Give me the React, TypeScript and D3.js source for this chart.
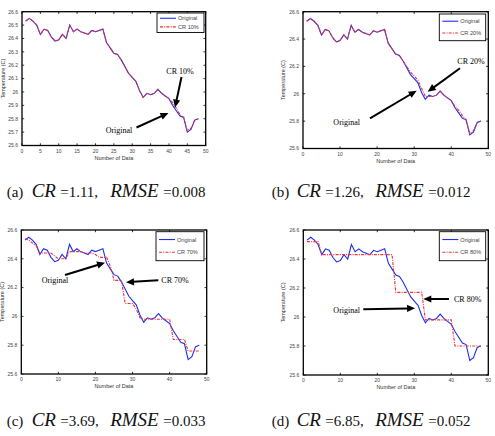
import * as d3 from 'd3';

// measured temperature, one reading per sample
const original = [
  26.53, 26.55, 26.53, 26.5, 26.43, 26.47, 26.46, 26.41, 26.38, 26.39,
  26.43, 26.4, 26.5, 26.45, 26.47, 26.45, 26.44, 26.43, 26.46, 26.45,
  26.46, 26.47, 26.37, 26.33, 26.29, 26.28, 26.24, 26.19, 26.14, 26.11,
  26.08, 26.01, 25.96, 25.99, 25.98, 25.99, 26.02, 25.99, 25.97, 25.95,
  25.9, 25.86, 25.82, 25.81, 25.7, 25.72, 25.79, 25.8,
];

// reconstructed signals at each compression ratio
const cr10 = [
  26.53, 26.55, 26.53, 26.5, 26.43, 26.47, 26.46, 26.41, 26.38, 26.39,
  26.43, 26.4, 26.5, 26.45, 26.47, 26.45, 26.44, 26.43, 26.46, 26.45,
  26.46, 26.47, 26.37, 26.33, 26.29, 26.28, 26.24, 26.19, 26.14, 26.11,
  26.08, 26.01, 25.96, 25.99, 25.98, 25.99, 26.02, 25.99, 25.97, 25.95,
  25.92, 25.88, 25.83, 25.81, 25.71, 25.73, 25.79, 25.8,
];
const cr20 = [
  26.53, 26.55, 26.53, 26.5, 26.43, 26.47, 26.46, 26.41, 26.38, 26.39,
  26.43, 26.4, 26.5, 26.45, 26.47, 26.45, 26.44, 26.43, 26.46, 26.45,
  26.46, 26.47, 26.37, 26.33, 26.29, 26.28, 26.24, 26.2, 26.16, 26.13,
  26.1, 26.04, 25.98, 25.98, 25.98, 25.99, 26.02, 25.99, 25.97, 25.95,
  25.91, 25.88, 25.84, 25.81, 25.71, 25.73, 25.79, 25.8,
];
const cr70 = [
  26.54, 26.53, 26.51, 26.49, 26.44, 26.44, 26.44, 26.44, 26.42, 26.4,
  26.4, 26.4, 26.45, 26.45, 26.45, 26.45, 26.44, 26.44, 26.44, 26.43,
  26.41, 26.41, 26.41, 26.35, 26.25, 26.25, 26.25, 26.09, 26.09, 26.09,
  26.05, 25.99, 25.98, 25.98, 25.98, 25.98, 25.98, 25.98, 25.98, 25.98,
  25.84, 25.84, 25.84, 25.84, 25.76, 25.76, 25.76, 25.76,
];
const cr80 = [
  26.52, 26.52, 26.52, 26.52, 26.43, 26.43, 26.43, 26.43, 26.43, 26.43,
  26.43, 26.43, 26.43, 26.43, 26.43, 26.43, 26.43, 26.43, 26.43, 26.43,
  26.43, 26.43, 26.43, 26.43, 26.17, 26.17, 26.17, 26.17, 26.17, 26.17,
  26.17, 26.17, 25.98, 25.98, 25.98, 25.98, 25.98, 25.98, 25.98, 25.98,
  25.8, 25.8, 25.8, 25.8, 25.8, 25.8, 25.8, 25.8,
];

const ticksFine = [25.6, 25.7, 25.8, 25.9, 26, 26.1, 26.2, 26.3, 26.4, 26.5, 26.6];
const ticksCoarse = [25.6, 25.8, 26, 26.2, 26.4, 26.6];
const xTicks5 = [0, 5, 10, 15, 20, 25, 30, 35, 40, 45, 50];
const xTicks10 = [0, 10, 20, 30, 40, 50];

const crLabels = ['CR 10%', 'CR 20%', 'CR 70%', 'CR 80%'];
const captionTags = ['(a)', '(b)', '(c)', '(d)'];
const crValues = ['1.11', '1.26', '3.69', '6.85'];
const rmseValues = ['0.008', '0.012', '0.033', '0.052'];

const BLUE = '#1d2ff0';
const RED = '#f0303a';
const SANS = '"Liberation Sans", Arial, sans-serif';
const SERIF = '"Liberation Serif", "Times New Roman", serif';

type Pt = [number, number];
type Box = { x0: number; x1: number; y0: number; y1: number };

function Arrow({ from, to }: { from: Pt; to: Pt }) {
  const dx = to[0] - from[0];
  const dy = to[1] - from[1];
  const len = Math.hypot(dx, dy);
  const ux = dx / len;
  const uy = dy / len;
  const head = 8;
  const half = 3.6;
  const bx = to[0] - ux * head;
  const by = to[1] - uy * head;
  const pts = [
    [to[0], to[1]],
    [bx - uy * half, by + ux * half],
    [bx + uy * half, by - ux * half],
  ];
  return (
    <g>
      <line x1={from[0]} y1={from[1]} x2={bx + ux} y2={by + uy} stroke="#000" strokeWidth={2} />
      <polygon points={pts.map(p => p.join(',')).join(' ')} fill="#000" />
    </g>
  );
}

interface PanelProps {
  box: Box;
  yTicks: number[];
  xTicks: number[];
  compressed: number[];
  label: string;
  legend: { x: number; y: number; w: number; h: number };
  annCR: { text: Pt; from: Pt; to: Pt };
  annOrig: { text: Pt; from: Pt; to: Pt };
  yLabelX: number;
}

function Panel({ box, yTicks, xTicks, compressed, label, legend, annCR, annOrig, yLabelX }: PanelProps) {
  const x = d3.scaleLinear().domain([0, 50]).range([box.x0, box.x1]);
  const y = d3.scaleLinear().domain([25.6, 26.6]).range([box.y1, box.y0]);
  const line = d3.line<number>().x((_, i) => x(i + 1)).y(d => y(d));
  const tick = 2.2;
  const ly1 = legend.y + legend.h * 0.27;
  const ly2 = legend.y + legend.h * 0.71;

  return (
    <g>
      <path d={line(original) ?? ''} fill="none" stroke={BLUE} strokeWidth={1.1} />
      <path d={line(compressed) ?? ''} fill="none" stroke={RED} strokeWidth={1.1}
        strokeDasharray="3,1.2,1,1.2" />

      {yTicks.map(t => (
        <g key={`y${t}`}>
          <line x1={box.x0} x2={box.x0 + tick} y1={y(t)} y2={y(t)} stroke="#000" strokeWidth={0.8} />
          <line x1={box.x1} x2={box.x1 - tick} y1={y(t)} y2={y(t)} stroke="#000" strokeWidth={0.8} />
          <text x={box.x0 - 4} y={y(t) + 1.8} textAnchor="end" fontSize={5} fontFamily={SANS} fill="#444">
            {d3.format('~g')(t)}
          </text>
        </g>
      ))}
      {xTicks.map(t => (
        <g key={`x${t}`}>
          <line x1={x(t)} x2={x(t)} y1={box.y1} y2={box.y1 - tick} stroke="#000" strokeWidth={0.8} />
          <line x1={x(t)} x2={x(t)} y1={box.y0} y2={box.y0 + tick} stroke="#000" strokeWidth={0.8} />
          <text x={x(t)} y={box.y1 + 7} textAnchor="middle" fontSize={5} fontFamily={SANS} fill="#444">
            {t}
          </text>
        </g>
      ))}
      <rect x={box.x0} y={box.y0} width={box.x1 - box.x0} height={box.y1 - box.y0}
        fill="none" stroke="#000" strokeWidth={1.3} />

      <text x={(box.x0 + box.x1) / 2} y={box.y1 + 14} textAnchor="middle" fontSize={5.5}
        fontFamily={SANS} fill="#333">Number of Data</text>
      <text transform={`translate(${yLabelX},${(box.y0 + box.y1) / 2}) rotate(-90)`} textAnchor="middle"
        fontSize={5.5} fontFamily={SANS} fill="#333">Temperature (C)</text>

      <rect x={legend.x} y={legend.y} width={legend.w} height={legend.h} fill="#fff" stroke="#000" strokeWidth={0.9} />
      <line x1={legend.x + 3} x2={legend.x + 19} y1={ly1} y2={ly1} stroke={BLUE} strokeWidth={1.1} />
      <line x1={legend.x + 3} x2={legend.x + 19} y1={ly2} y2={ly2} stroke={RED} strokeWidth={1.1}
        strokeDasharray="3,1.2,1,1.2" />
      <text x={legend.x + 21} y={ly1 + 2} fontSize={5.6} fontFamily={SANS} fill="#444">Original</text>
      <text x={legend.x + 21} y={ly2 + 2} fontSize={5.6} fontFamily={SANS} fill="#444">{label}</text>

      <text x={annCR.text[0]} y={annCR.text[1] + 2.8} textAnchor="middle" fontSize={8} fontFamily={SERIF}>{label}</text>
      <Arrow from={annCR.from} to={annCR.to} />
      <text x={annOrig.text[0]} y={annOrig.text[1] + 2.8} textAnchor="middle" fontSize={8} fontFamily={SERIF}>Original</text>
      <Arrow from={annOrig.from} to={annOrig.to} />
    </g>
  );
}

function Caption({ i, x, y }: { i: number; x: number; y: number }) {
  return (
    <text y={y} fontFamily={SERIF} fill="#111">
      <tspan x={x} fontSize={15}>{captionTags[i]}</tspan>
      <tspan x={x + 25} fontSize={19} fontStyle="italic">CR</tspan>
      <tspan x={x + 53.5} fontSize={15}>{`=${crValues[i]},`}</tspan>
      <tspan x={x + 103.5} fontSize={19} fontStyle="italic">RMSE</tspan>
      <tspan x={x + 156.5} fontSize={15}>{`=${rmseValues[i]}`}</tspan>
    </text>
  );
}

export default function App() {
  return (
    <svg width={495} height={436} viewBox="0 0 495 436"
      style={{ position: 'absolute', left: 0, top: 0, background: '#fff' }}>
      <rect width={495} height={436} fill="#fff" />
      <Panel
        box={{ x0: 22, x1: 205.7, y0: 11.7, y1: 145.5 }}
        yTicks={ticksFine} xTicks={xTicks5} compressed={cr10} label={crLabels[0]}
        legend={{ x: 157, y: 13, w: 47, h: 19.5 }}
        annCR={{ text: [180, 71.5], from: [181.5, 77], to: [175, 107.5] }}
        annOrig={{ text: [119, 130], from: [136.5, 127.5], to: [168.5, 113] }}
        yLabelX={5}
      />
      <Panel
        box={{ x0: 303, x1: 488.3, y0: 11.7, y1: 148.5 }}
        yTicks={ticksCoarse} xTicks={xTicks10} compressed={cr20} label={crLabels[1]}
        legend={{ x: 439.3, y: 14, w: 46.4, h: 26.7 }}
        annCR={{ text: [471, 61], from: [460, 68.3], to: [427.7, 91.7] }}
        annOrig={{ text: [346.7, 121.7], from: [370, 118.3], to: [416.7, 90.7] }}
        yLabelX={285}
      />
      <Panel
        box={{ x0: 21.3, x1: 206.7, y0: 230, y1: 374 }}
        yTicks={ticksCoarse} xTicks={xTicks10} compressed={cr70} label={crLabels[2]}
        legend={{ x: 156, y: 231.7, w: 48, h: 29 }}
        annCR={{ text: [175, 280], from: [158.3, 280.3], to: [126, 282.3] }}
        annOrig={{ text: [55, 280], from: [65, 275], to: [105, 262.7] }}
        yLabelX={4}
      />
      <Panel
        box={{ x0: 303.3, x1: 488.3, y0: 230, y1: 375 }}
        yTicks={ticksCoarse} xTicks={xTicks10} compressed={cr80} label={crLabels[3]}
        legend={{ x: 439.3, y: 231.7, w: 46.4, h: 29 }}
        annCR={{ text: [467.7, 299], from: [449, 299], to: [423.3, 299] }}
        annOrig={{ text: [346.7, 310], from: [363.3, 309.3], to: [415, 308.3] }}
        yLabelX={285}
      />
      <Caption i={0} x={6.7} y={197.3} />
      <Caption i={1} x={271.7} y={197.3} />
      <Caption i={2} x={6.7} y={425.7} />
      <Caption i={3} x={271.7} y={425.7} />
    </svg>
  );
}
